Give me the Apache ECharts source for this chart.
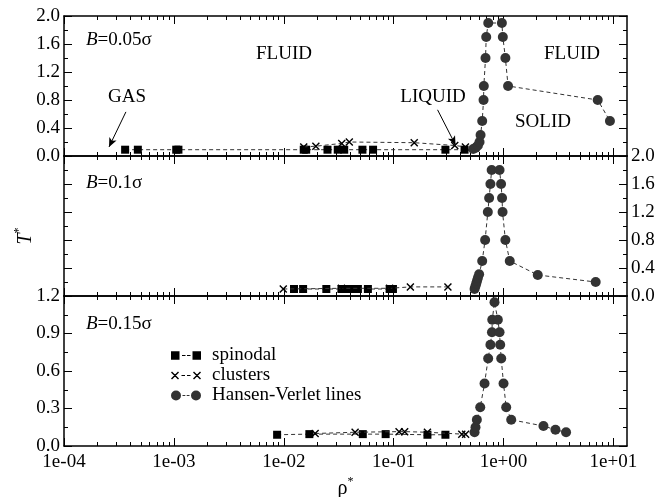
<!DOCTYPE html>
<html>
<head>
<meta charset="utf-8">
<script src="https://cdn.jsdelivr.net/npm/echarts@6/dist/echarts.min.js"></script>
<style>
  html, body { margin: 0; padding: 0; background: #fff; }
  #chart { width: 658px; height: 497px; }
</style>
</head>
<body>
<div id="chart"></div>
<script>
// data: [rho*, T*]
const spin05 = [[3.6e-4, 0.09], [4.7e-4, 0.09], [1.05e-3, 0.09], [1.1e-3, 0.09], [0.0152, 0.09], [0.016, 0.09],
  [0.025, 0.09], [0.031, 0.09], [0.0355, 0.09], [0.052, 0.09], [0.065, 0.09], [0.296, 0.09], [0.442, 0.09]];
const clus05 = [[0.0152, 0.13], [0.0196, 0.14], [0.0337, 0.18], [0.0395, 0.2], [0.154, 0.19], [0.36, 0.15], [0.45, 0.13]];
const hv05 = [[0.53, 0.1], [0.56, 0.12], [0.585, 0.15], [0.605, 0.2], [0.618, 0.3], [0.64, 0.5], [0.658, 0.8],
  [0.662, 1.0], [0.686, 1.4], [0.696, 1.7], [0.726, 1.9], [0.966, 1.9], [0.986, 1.7], [1.04, 1.4], [1.1, 1.0],
  [7.2, 0.8], [9.3, 0.5]];

const spin10 = [[0.0124, 0.1], [0.015, 0.1], [0.0244, 0.1], [0.0335, 0.1], [0.0372, 0.1], [0.0413, 0.1],
  [0.0473, 0.1], [0.0583, 0.1], [0.092, 0.1], [0.0986, 0.1]];
const clus10 = [[0.0099, 0.1], [0.0335, 0.11], [0.092, 0.11], [0.142, 0.13], [0.312, 0.13]];
const hv10 = [[0.545, 0.1], [0.555, 0.14], [0.565, 0.18], [0.575, 0.22], [0.585, 0.26], [0.6, 0.31], [0.64, 0.5],
  [0.68, 0.8], [0.72, 1.2], [0.74, 1.4], [0.76, 1.6], [0.78, 1.8], [0.92, 1.8], [0.95, 1.6], [0.97, 1.4],
  [0.98, 1.2], [1.04, 0.8], [1.14, 0.5], [2.05, 0.3], [6.9, 0.2]];

const spin15 = [[0.0087, 0.09], [0.0171, 0.095], [0.0524, 0.095], [0.0846, 0.095], [0.203, 0.09], [0.296, 0.09]];
const clus15 = [[0.0193, 0.1], [0.0446, 0.11], [0.112, 0.115], [0.126, 0.115], [0.203, 0.11], [0.417, 0.095], [0.452, 0.095]];
const hv15 = [[0.545, 0.11], [0.556, 0.15], [0.572, 0.21], [0.614, 0.31], [0.672, 0.5], [0.725, 0.7], [0.76, 0.81],
  [0.785, 0.91], [0.79, 1.01], [0.828, 1.15], [0.888, 1.01], [0.92, 0.91], [0.933, 0.81], [0.953, 0.7],
  [1.0, 0.5], [1.058, 0.31], [1.175, 0.21], [2.31, 0.16], [2.97, 0.13], [3.71, 0.11]];

const seriesNames = ['spinodal', 'clusters', 'Hansen-Verlet lines'];
const xTickValues = [1e-4, 1e-3, 1e-2, 1e-1, 1e0, 1e1];
const yMax = [2.0, 2.0, 1.2];
const yStep = [0.4, 0.4, 0.3];

const RHO_MIN = 1e-4, RHO_MAX = 13.3;
const FONT = 'Liberation Serif';
const FS = 19;
const panels = [[spin05, clus05, hv05], [spin10, clus10, hv10], [spin15, clus15, hv15]];

// minor decade ticks 2..9 x 10^k
const xMinorValues = [];
xTickValues.forEach(d => { for (let m = 2; m <= 9; m++) if (d * m <= RHO_MAX) xMinorValues.push(d * m); });

const crossPath = 'path://M0,1L1,0L8,7L7,8Z M7,0L8,1L1,8L0,7Z';
const symbols = ['rect', crossPath, 'circle'];
const symbolSizes = [8, 8, 10];
const colors = ['#000', '#000', '#333'];
const legendIcons = [
  'path://M0,0.5h8.5v8.5h-8.5z M11,4.3h3.5v1h-3.5z M16,4.3h3.5v1h-3.5z M21.5,0.5h8.5v8.5h-8.5z',
  'path://M0,1L1,0L8,7L7,8Z M7,0L8,1L1,8L0,7Z M10.5,3.5h3.5v1h-3.5z M16,3.5h3.5v1h-3.5z M22,1L23,0L30,7L29,8Z M29,0L30,1L23,8L22,7Z',
  'path://M0,5a5,5 0 1,1 10,0a5,5 0 1,1 -10,0z M11.5,4.5h2.8v1h-2.8z M15.7,4.5h2.8v1h-2.8z M20,5a5,5 0 1,1 10,0a5,5 0 1,1 -10,0z'
];

const axisLine = { show: true, lineStyle: { color: '#000', width: 1.5 } };
const tickStyle = { color: '#000', width: 1 };
const labelStyle = { color: '#000', fontFamily: FONT, fontSize: FS };

function expLabel(v) {
  const e = Math.round(Math.log10(v));
  return '1e' + (e < 0 ? '-' : '+') + String(Math.abs(e)).padStart(2, '0');
}

const grids = [
  { left: 64, right: 31, top: 16, height: 140 },
  { left: 64, right: 31, top: 156, height: 140 },
  { left: 64, right: 31, top: 296, height: 150 }
].map(g => Object.assign(g, { outerBoundsMode: 'none', containLabel: false }));

const xAxes = [];
const yAxes = [];
const series = [];

for (let g = 0; g < 3; g++) {
  ['bottom', 'top'].forEach(pos => {
    const main = {
      gridIndex: g, type: 'log', min: RHO_MIN, max: RHO_MAX, position: pos,
      axisLine: axisLine,
      axisTick: { show: true, inside: true, length: 8, customValues: xTickValues, lineStyle: tickStyle },
      axisLabel: { show: false },
      splitLine: { show: false }
    };
    if (g === 2 && pos === 'bottom') {
      main.axisLabel = Object.assign({ show: true, margin: 7, customValues: xTickValues, formatter: expLabel }, labelStyle);
      main.name = '{r|ρ}{s|*}';
      main.nameLocation = 'middle';
      main.nameGap = 30;
      main.nameTextStyle = {
        color: '#000', fontFamily: FONT, fontSize: FS,
        rich: { r: { fontFamily: FONT, fontSize: 20 }, s: { fontFamily: FONT, fontSize: 12, padding: [0, 0, 14, 0] } }
      };
    }
    xAxes.push(main);
    xAxes.push({
      gridIndex: g, type: 'log', min: RHO_MIN, max: RHO_MAX, position: pos,
      axisLine: { show: false },
      axisTick: { show: true, inside: true, length: 4, customValues: xMinorValues, lineStyle: tickStyle },
      axisLabel: { show: false },
      splitLine: { show: false }
    });
  });

  ['left', 'right'].forEach(pos => {
    const showLabel = (g === 1) ? pos === 'right' : pos === 'left';
    yAxes.push({
      gridIndex: g, type: 'value', min: 0, max: yMax[g], interval: yStep[g], position: pos,
      axisLine: axisLine,
      axisTick: { show: true, inside: true, length: 8, lineStyle: tickStyle },
      minorTick: { show: true, splitNumber: 2, length: 4, lineStyle: tickStyle },
      axisLabel: Object.assign({ show: showLabel, margin: 4, formatter: v => v.toFixed(1) }, labelStyle),
      splitLine: { show: false }
    });
  });

  panels[g].forEach((data, k) => {
    const s = {
      name: seriesNames[k], type: 'line', data: data,
      xAxisIndex: 4 * g, yAxisIndex: 2 * g,
      symbol: symbols[k], symbolSize: symbolSizes[k],
      itemStyle: { color: colors[k], borderWidth: 0 },
      lineStyle: { color: '#333', width: 1, type: [4, 3] },
      emphasis: { disabled: true },
      z: 2 + k
    };
    if (g === 0 && k === 0) {
      s.markLine = {
        silent: true, symbol: ['none', 'arrow'], symbolSize: [6, 9],
        lineStyle: { color: '#000', width: 1, type: 'solid' },
        label: { show: false },
        data: [
          [{ coord: [3.66e-4, 0.63] }, { coord: [2.57e-4, 0.13] }],
          [{ coord: [0.251, 0.66] }, { coord: [0.366, 0.157] }]
        ]
      };
    }
    series.push(s);
  });
}

function txt(x, y, text, align) {
  return {
    type: 'text', x: x, y: y, silent: true,
    style: {
      text: text, fill: '#000', fontFamily: FONT, fontSize: FS,
      textAlign: align || 'center', textVerticalAlign: 'middle',
      rich: { i: { fontStyle: 'italic', fontFamily: FONT, fontSize: FS } }
    }
  };
}

const graphics = [
  txt(86, 40, '{i|B}=0.05σ', 'left'),
  txt(86, 183, '{i|B}=0.1σ', 'left'),
  txt(86, 324, '{i|B}=0.15σ', 'left'),
  txt(284, 54, 'FLUID'),
  txt(127, 97, 'GAS'),
  txt(433, 97, 'LIQUID'),
  txt(572, 54, 'FLUID'),
  txt(543, 122, 'SOLID'),
  {
    type: 'text', x: 26, y: 236, rotation: Math.PI / 2, silent: true,
    style: {
      text: '{i|T}{s|*}', fill: '#000', fontFamily: FONT, fontSize: FS,
      textAlign: 'center', textVerticalAlign: 'middle',
      rich: {
        i: { fontStyle: 'italic', fontFamily: FONT, fontSize: 20 },
        s: { fontFamily: FONT, fontSize: 12, padding: [0, 0, 14, 0] }
      }
    }
  }
];

const chart = echarts.init(document.getElementById('chart'), null, { renderer: 'canvas' });
chart.setOption({
  animation: false,
  backgroundColor: '#fff',
  grid: grids,
  xAxis: xAxes,
  yAxis: yAxes,
  legend: {
    orient: 'vertical', left: 166, top: 341, itemGap: 1,
    itemWidth: 30, itemHeight: 10, selectedMode: false,
    itemStyle: { borderWidth: 0 },
    textStyle: { color: '#000', fontFamily: FONT, fontSize: FS, padding: [0, 0, 0, 6] },
    data: seriesNames.map((n, k) => ({ name: n, icon: legendIcons[k] }))
  },
  graphic: graphics,
  series: series
});
</script>
</body>
</html>
